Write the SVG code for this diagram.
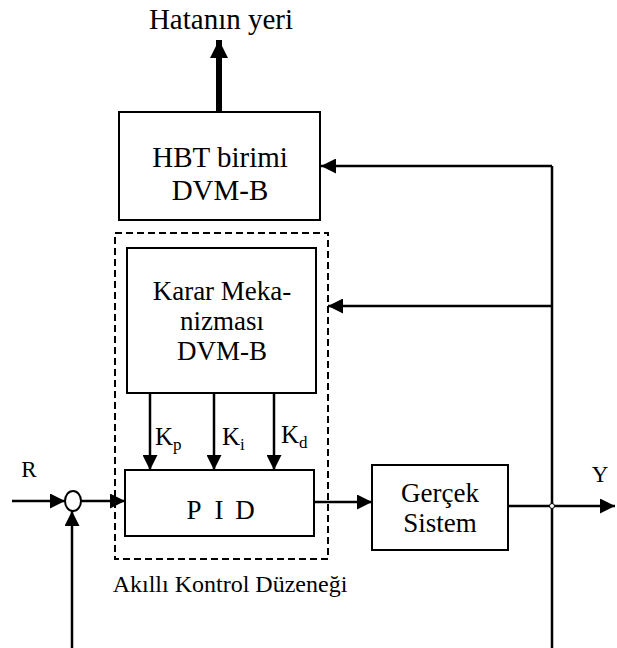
<svg xmlns="http://www.w3.org/2000/svg" width="617" height="648" viewBox="0 0 617 648">
<style>
.box{fill:#fff;stroke:#000;stroke-width:2}
.dash{fill:none;stroke:#000;stroke-width:2;stroke-dasharray:7 4}
.ln{fill:none;stroke:#000;stroke-width:2.5}
.thick{fill:none;stroke:#000;stroke-width:6}
text{fill:#000}
.t{text-anchor:middle}
.s{text-anchor:start}
</style>
<defs>
<marker id="ah" viewBox="0 0 15 15" refX="15" refY="7.5" markerWidth="15" markerHeight="15" markerUnits="userSpaceOnUse" orient="auto">
<path d="M0,0 L15,7.5 L0,15 Z" fill="#000"/>
</marker>
<marker id="ahb" viewBox="0 0 18 18" refX="18" refY="9" markerWidth="18" markerHeight="18" markerUnits="userSpaceOnUse" orient="auto">
<path d="M0,0 L18,9 L0,18 Z" fill="#000"/>
</marker>
</defs>
<rect width="617" height="648" fill="#fff"/>
<g id="connectors">
<path class="thick" d="M219,112 V40" marker-end="url(#ahb)"/>
<path class="ln" d="M552,166 V648"/>
<path class="ln" d="M552,166 H321" marker-end="url(#ah)"/>
<path class="ln" d="M552,306 H328" marker-end="url(#ah)"/>
<path class="ln" d="M150,393 V470" marker-end="url(#ah)"/>
<path class="ln" d="M214,393 V470" marker-end="url(#ah)"/>
<path class="ln" d="M274,393 V470" marker-end="url(#ah)"/>
<path class="ln" d="M12,501 H65" marker-end="url(#ah)"/>
<path class="ln" d="M81,501 H125" marker-end="url(#ah)"/>
<path class="ln" d="M72,648 V511" marker-end="url(#ah)"/>
<path class="ln" d="M314,502 H372" marker-end="url(#ah)"/>
<path class="ln" d="M508,506 H615" marker-end="url(#ah)"/>
<circle cx="552" cy="506" r="2.5" fill="#fff" stroke="#000" stroke-width="1"/>
</g>
<g font-family="Liberation Serif, DejaVu Serif, serif">
<g id="hata">
<text class="t" x="221" y="29" font-size="29">Hatanın yeri</text>
</g>
<g id="hbt">
<rect class="box" x="119" y="112" width="201" height="108"/>
<text class="t" x="220" y="167" font-size="29">HBT birimi</text>
<text class="t" x="220" y="200" font-size="29">DVM-B</text>
</g>
<g id="akilli">
<rect class="dash" x="115" y="233" width="213" height="326"/>
<text class="t" x="230" y="592" font-size="24">Akıllı Kontrol Düzeneği</text>
</g>
<g id="karar">
<rect class="box" x="127" y="248" width="189" height="145"/>
<text class="t" x="222" y="300" font-size="27">Karar Meka-</text>
<text class="t" x="222" y="330" font-size="27">nizması</text>
<text class="t" x="222" y="360" font-size="27">DVM-B</text>
</g>
<g id="gains">
<text class="s" x="155" y="445" font-size="25">K<tspan font-size="17" dy="5">p</tspan></text>
<text class="s" x="222" y="445" font-size="25">K<tspan font-size="17" dy="5">i</tspan></text>
<text class="s" x="281" y="443" font-size="25">K<tspan font-size="17" dy="5">d</tspan></text>
</g>
<g id="pid">
<rect class="box" x="125" y="470" width="189" height="66"/>
<text class="t" x="194" y="519" font-size="27">P</text>
<text class="t" x="219" y="519" font-size="27">I</text>
<text class="t" x="245" y="519" font-size="27">D</text>
</g>
<g id="sum">
<ellipse cx="73" cy="501" rx="8" ry="10" fill="#fff" stroke="#000" stroke-width="2"/>
</g>
<g id="gercek">
<rect class="box" x="372" y="465" width="136" height="85"/>
<text class="t" x="440" y="502" font-size="27">Gerçek</text>
<text class="t" x="440" y="532" font-size="27">Sistem</text>
</g>
<g id="labels">
<text class="t" x="29" y="477" font-size="23">R</text>
<text class="t" x="600" y="482" font-size="23">Y</text>
</g>
</g>
</svg>
